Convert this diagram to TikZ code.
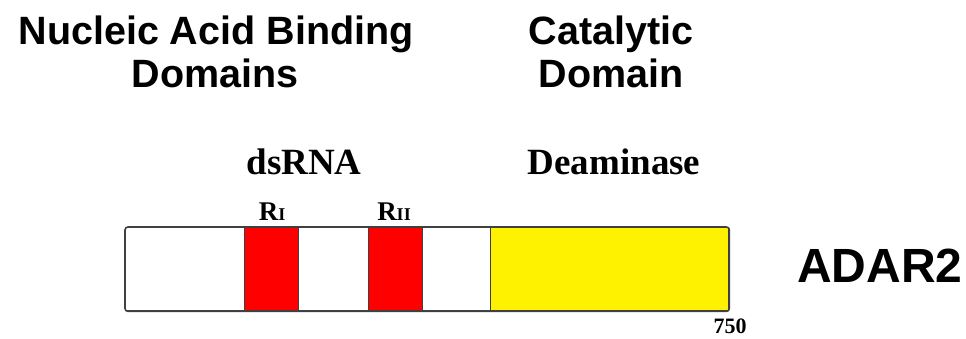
\documentclass[tikz,border=0pt]{standalone}
\usepackage{fontspec}
\setmainfont{Liberation Serif}
\newfontfamily\hfont{Liberation Sans}
\begin{document}
\begin{tikzpicture}[x=1pt,y=-1pt,
  head/.style={font=\hfont\bfseries\fontsize{39.5}{39.5}\selectfont, anchor=base, inner sep=0},
  sub/.style={font=\bfseries\fontsize{37}{37}\selectfont, anchor=base, inner sep=0},
  rlab/.style={font=\bfseries\fontsize{27}{27}\selectfont, anchor=base, inner sep=0},
  seg/.style={draw=black!75, line width=1.4pt, anchor=north west, inner sep=0, minimum height=83pt},
  wseg/.style={seg, fill=white},
  rseg/.style={seg, fill=red},
  yseg/.style={seg, fill=yellow}]
\useasboundingbox (0,0) rectangle (966,339);
% headings
\node[head] (nab1) at (216,45) {Nucleic Acid Binding};
\node[head] (nab2) at (215,88) {Domains};
\node[head] (cat1) at (611,45) {Catalytic};
\node[head] (cat2) at (611,88) {Domain};
% sub labels
\node[sub] (ds) at (304,175) {dsRNA};
\node[sub] (dea) at (614,175) {Deaminase};
\node[rlab] (r1) at (272,220) {R{\fontsize{18}{18}\selectfont I}};
\node[rlab] (r2) at (394,220) {R{\fontsize{18}{18}\selectfont II}};
% bar segments
\node[wseg, minimum width=119pt] (w1) at (125,227) {};
\node[rseg, minimum width=54pt] (red1) at (244,227) {};
\node[wseg, minimum width=70pt] (w2) at (298,227) {};
\node[rseg, minimum width=54pt] (red2) at (368,227) {};
\node[wseg, minimum width=68pt] (w3) at (422,227) {};
\node[yseg, minimum width=238pt] (cat) at (490,227) {};
\draw[draw=black!75, line width=1.6pt, rounded corners=3pt] (w1.north west) rectangle (cat.south east);
% end label and name
\node[font=\bfseries\fontsize{22}{22}\selectfont, anchor=base, inner sep=0] (n750) at (730,333) {750};
\node[font=\hfont\bfseries\fontsize{48}{48}\selectfont, anchor=base, inner sep=0] (adar) at (880,282) {ADAR2};
\end{tikzpicture}
\end{document}
